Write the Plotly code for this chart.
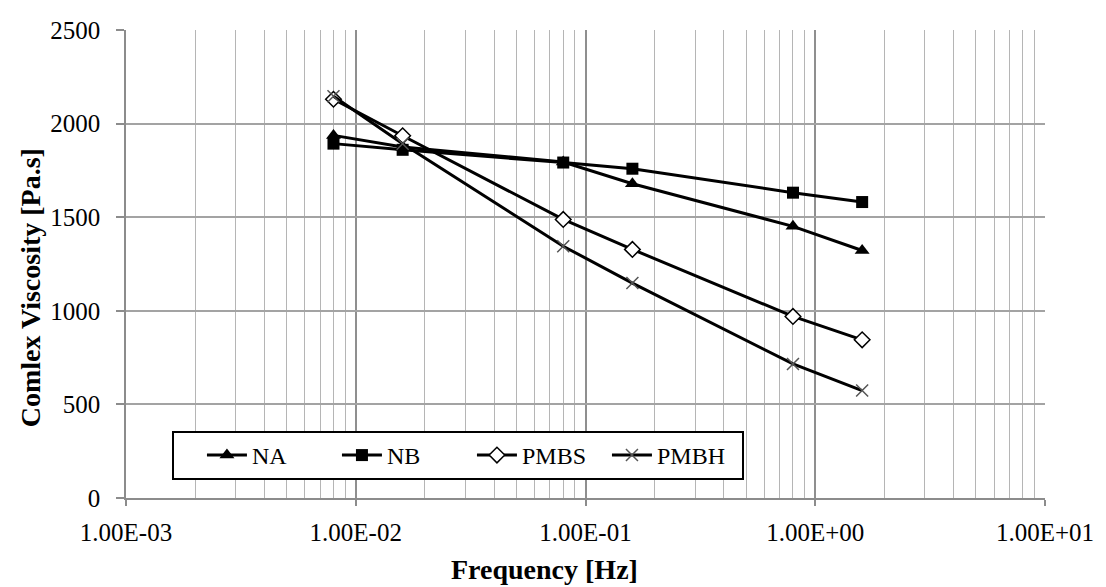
import plotly.graph_objects as go

freq = [0.008, 0.016, 0.08, 0.16, 0.8, 1.6]
na = [1937, 1875, 1795, 1679, 1451, 1322]
nb = [1893, 1860, 1792, 1759, 1631, 1581]
pmbs = [2130, 1935, 1488, 1328, 970, 845]
pmbh = [2146, 1892, 1345, 1148, 716, 574]

x_tickvals = [0.001, 0.01, 0.1, 1, 10]
x_ticktext = ["1.00E-03", "1.00E-02", "1.00E-01", "1.00E+00", "1.00E+01"]
y_tickvals = [0, 500, 1000, 1500, 2000, 2500]

minor_vals = [m * 10.0 ** e for e in range(-3, 1) for m in range(2, 10)]

FONT = "Liberation Serif"
GRID_MAJOR = "#8f8f8f"
GRID_MINOR = "#b5b5b5"
AXIS = "#8c8c8c"

fig = go.Figure()

series = [
    ("NA", na, dict(symbol="triangle-up", size=13, color="black")),
    ("NB", nb, dict(symbol="square", size=12, color="black")),
    ("PMBS", pmbs, dict(symbol="diamond", size=12, color="white",
                        line=dict(color="black", width=1.5))),
    ("PMBH", pmbh, dict(symbol="x-thin", size=12, color="black",
                        line=dict(color="#555555", width=1.5))),
]

for name, ys, marker in series:
    fig.add_trace(go.Scatter(
        x=freq, y=ys, name=name, mode="lines+markers",
        line=dict(color="black", width=3),
        marker=marker,
    ))

fig.update_layout(
    width=1106, height=587,
    margin=dict(l=126, r=46, t=30, b=89),
    paper_bgcolor="white", plot_bgcolor="white",
    font=dict(family=FONT, size=25, color="black"),
    showlegend=True,
    legend=dict(
        orientation="h",
        x=0.05, y=0.0385, xanchor="left", yanchor="bottom",
        bgcolor="white", bordercolor="black", borderwidth=2,
        font=dict(family=FONT, size=24, color="black"),
        itemwidth=40,
        entrywidth=80, entrywidthmode="pixels",
        title=dict(text="\u00a0\u00a0\u00a0", side="left",
                   font=dict(family=FONT, size=24)),
    ),
    xaxis=dict(
        type="log", range=[-3, 1],
        tickmode="array", tickvals=x_tickvals, ticktext=x_ticktext,
        showgrid=True, gridcolor=GRID_MAJOR, gridwidth=1.5,
        showline=True, linecolor=AXIS, linewidth=1.5,
        ticks="outside", ticklen=6, tickcolor=AXIS, tickwidth=1.5,
        ticklabelstandoff=5, ticklabeloverflow="allow",
        minor=dict(tickvals=minor_vals, showgrid=True, gridcolor=GRID_MINOR,
                   gridwidth=1.3, ticks=""),
        zeroline=False,
        tickfont=dict(family=FONT, size=25),
    ),
    yaxis=dict(
        range=[0, 2500],
        tickmode="array", tickvals=y_tickvals,
        showgrid=True, gridcolor="#a3a3a3", gridwidth=1.5,
        showline=True, linecolor=AXIS, linewidth=1.5,
        ticks="outside", ticklen=8, tickcolor=AXIS, tickwidth=1.5,
        ticklabelstandoff=11,
        zeroline=False,
        tickfont=dict(family=FONT, size=25),
    ),
    annotations=[
        dict(text="<b>Frequency [Hz]</b>", xref="paper", yref="paper",
             x=0.455, y=-0.152, xanchor="center", yanchor="middle", showarrow=False,
             font=dict(family=FONT, size=28, color="black")),
        dict(text="<b>Comlex Viscosity [Pa.s]</b>", xref="paper", yref="paper",
             x=-0.104, y=0.449, xanchor="center", yanchor="middle", showarrow=False,
             textangle=-90,
             font=dict(family=FONT, size=28, color="black")),
    ],
)

fig.write_html(
    "out.html",
    config={"displayModeBar": False},
    post_script="document.body.style.margin='0px';document.body.style.overflow='hidden';",
)
